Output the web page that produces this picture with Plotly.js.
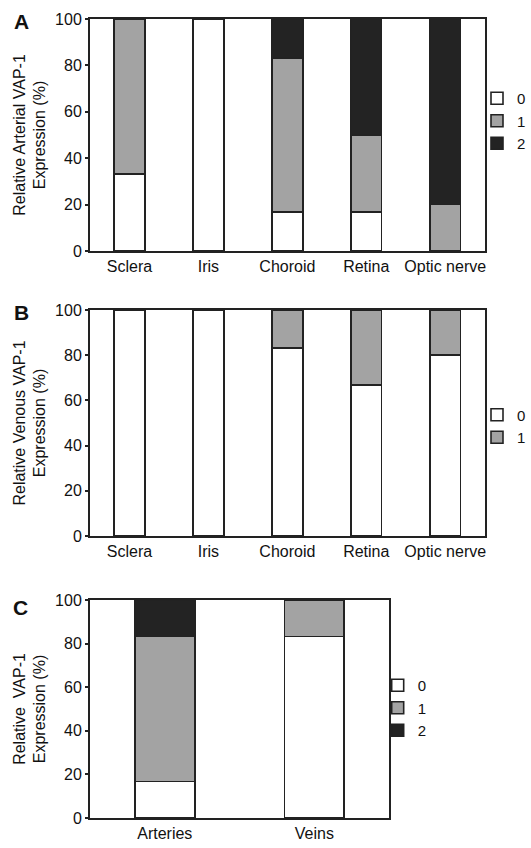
<!DOCTYPE html>
<html>
<head>
<meta charset="utf-8">
<script src="https://cdn.plot.ly/plotly-3.0.1.min.js"></script>
<style>
html,body{margin:0;padding:0;background:#fff;}
#chart{width:531px;height:848px;}
</style>
</head>
<body>
<div id="chart"></div>
<script>
// ---- data ----
const tissues = ['Sclera', 'Iris', 'Choroid', 'Retina', 'Optic nerve'];
const arterialScore0 = [33.3, 100, 16.7, 16.7, 0];
const arterialScore1 = [66.7, 0, 66.6, 33.3, 20];
const arterialScore2 = [0, 0, 16.7, 50, 80];
const venousScore0 = [100, 100, 83.3, 66.7, 80];
const venousScore1 = [0, 0, 16.7, 33.3, 20];
const vesselTypes = ['Arteries', 'Veins'];
const vesselScore0 = [16.7, 83.3];
const vesselScore1 = [66.6, 16.7];
const vesselScore2 = [16.7, 0];
const scoreNames = ['0', '1', '2'];
const yTicks = [0, 20, 40, 60, 80, 100];

// ---- styles ----
const FONT = 'Liberation Sans, Arial, sans-serif';
const fills = ['#ffffff', '#a3a3a3', '#232323'];
const edge = {color: '#222222', width: 1.6};

function bar(x, y, k, xa, ya, leg, w) {
  return {
    type: 'bar', x: x, y: y, name: scoreNames[k],
    xaxis: xa, yaxis: ya, legend: leg, width: w,
    marker: {color: fills[k], line: edge},
    hoverinfo: 'skip'
  };
}

const data = [
  bar(tissues, arterialScore0, 0, 'x', 'y', 'legend', 0.39),
  bar(tissues, arterialScore1, 1, 'x', 'y', 'legend', 0.39),
  bar(tissues, arterialScore2, 2, 'x', 'y', 'legend', 0.39),
  bar(tissues, venousScore0, 0, 'x2', 'y2', 'legend2', 0.39),
  bar(tissues, venousScore1, 1, 'x2', 'y2', 'legend2', 0.39),
  bar(vesselTypes, vesselScore0, 0, 'x3', 'y3', 'legend3', 0.4),
  bar(vesselTypes, vesselScore1, 1, 'x3', 'y3', 'legend3', 0.4),
  bar(vesselTypes, vesselScore2, 2, 'x3', 'y3', 'legend3', 0.4)
];

const L = 90, W = 531 - L, H = 848;
function px(v) { return (v - L) / W; }
function py(v) { return 1 - v / H; }

function xax(dom, anchor) {
  return {
    domain: dom, anchor: anchor, type: 'category',
    showline: true, linecolor: '#222', linewidth: 2, mirror: true,
    ticks: '', showgrid: false, zeroline: false,
    tickfont: {family: FONT, size: 16, color: '#111'}
  };
}
function yax(dom, anchor, title) {
  return {
    domain: dom, anchor: anchor, range: [0, 100],
    tickvals: yTicks, ticktext: yTicks.map(String),
    showline: true, linecolor: '#222', linewidth: 2, mirror: true,
    ticks: 'outside', ticklen: 3, tickwidth: 2, tickcolor: '#222',
    showgrid: false, zeroline: false,
    tickfont: {family: FONT, size: 16, color: '#111'},
    title: {text: title, font: {family: FONT, size: 16, color: '#111'}, standoff: 5}
  };
}
function leg(x, y) {
  return {
    x: x, y: y, xanchor: 'left', yanchor: 'middle',
    traceorder: 'normal', bgcolor: 'rgba(0,0,0,0)',
    font: {family: FONT, size: 15, color: '#111'},
    itemclick: false, itemdoubleclick: false
  };
}

const layout = {
  width: 531, height: 848,
  margin: {l: L, r: 0, t: 0, b: 0},
  paper_bgcolor: '#fff', plot_bgcolor: '#fff',
  barmode: 'stack', showlegend: true,
  xaxis: xax([0, px(486.5)], 'y'),
  yaxis: yax([py(251), py(19)], 'x', 'Relative Arterial VAP-1<br>Expression (%)'),
  xaxis2: xax([0, px(486.5)], 'y2'),
  yaxis2: yax([py(536), py(310)], 'x2', 'Relative Venous VAP-1<br>Expression (%)'),
  xaxis3: xax([0, px(390.5)], 'y3'),
  yaxis3: yax([py(818), py(600)], 'x3', 'Relative\u00A0 VAP-1<br>Expression (%)'),
  legend: leg(px(479), py(121)),
  legend2: leg(px(479), py(426)),
  legend3: leg(px(379), py(708)),
  annotations: [
    {text: '<b>A</b>', x: px(21), y: py(22)},
    {text: '<b>B</b>', x: px(21), y: py(312)},
    {text: '<b>C</b>', x: px(20), y: py(607)}
  ].map(a => Object.assign(a, {
    xref: 'paper', yref: 'paper', showarrow: false,
    xanchor: 'center', yanchor: 'middle',
    font: {family: FONT, size: 21, color: '#111'}
  }))
};

Plotly.newPlot('chart', data, layout, {staticPlot: true, displayModeBar: false});
</script>
</body>
</html>
